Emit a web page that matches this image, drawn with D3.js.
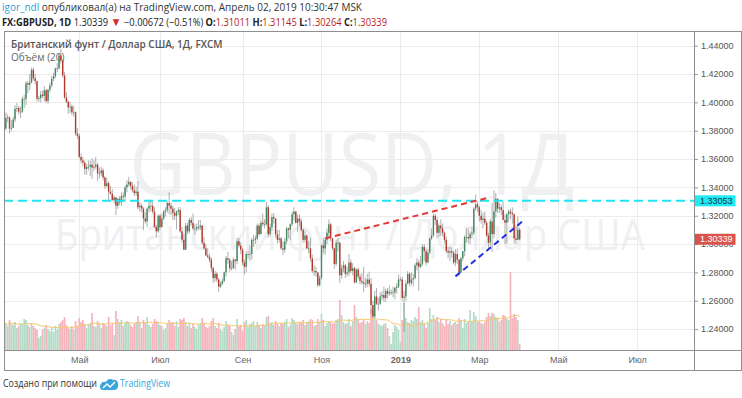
<!DOCTYPE html>
<meta charset="utf-8">
<body style="margin:0;background:white">
  <div id="content"></div>
</body>
<script src="https://cdn.jsdelivr.net/npm/d3@7"></script>
<script>
// GBPUSD daily, FXCM, 06.03.2018 - 02.04.2019 (prices in pips, open = previous close)
var firstOpen = 13815;
var closes = [
  13890, 13895, 13815, 13820,
  13880, 13955, 13960, 13935, 13935,  14025, 14025, 14135, 14125, 14140,
  14230, 14170, 14150, 14025, 14030,  14055, 14045, 14085, 14010, 14090,
  14120, 14165, 14185, 14240, 14240,  14330, 14295, 14190, 14035, 14005,
  13965, 13970, 13930, 13930, 13780,  13765, 13615, 13590, 13575, 13530,
  13545, 13545, 13560, 13540, 13545,  13560, 13500, 13500, 13520, 13470,
  13410, 13430, 13370, 13355, 13310,  13330, 13270, 13320, 13295, 13340,
  13335, 13400, 13420, 13440, 13410,  13380, 13360, 13370, 13260, 13270,
  13250, 13180, 13160, 13250, 13270,  13270, 13230, 13120, 13090, 13200,
  13120, 13180, 13230, 13240, 13290,  13270, 13250, 13220, 13200, 13230,
  13240, 13090, 13030, 12960, 13130,  13090, 13170, 13150, 13110, 13110,
  13120, 13120, 13130, 13010, 12970,  12920, 12910, 12890, 12830, 12760,
  12790, 12750, 12700, 12720, 12740,  12800, 12900, 12890, 12830, 12830,
  12890, 12880, 13020, 12990, 12960,  12870, 12840, 12930, 12930, 12930,
  13030, 13030, 13040, 13130, 13070,  13150, 13140, 13140, 13260, 13070,
  13120, 13190, 13180, 13070, 13030,  13040, 12970, 12960, 13020, 13110,
  13100, 13140, 13210, 13230, 13150,  13180, 13160, 13100, 13030, 13060,
  12970, 12970, 12900, 12810, 12810,  12800, 12710, 12760, 12990, 12970,
  13030, 13080, 13140, 13040, 12970,  12860, 13010, 13010, 12780, 12830,
  12850, 12790, 12800, 12870, 12810,  12830, 12730, 12820, 12770, 12740,
  12730, 12720, 12720, 12750, 12720,  12570, 12490, 12630, 12580, 12580,
  12630, 12640, 12620, 12670, 12650,  12660, 12660, 12660, 12690, 12700,
  12750, 12750, 12620, 12630, 12720,  12790, 12725, 12750, 12760, 12850,
  12870, 12840, 12860, 12980, 12950,  12870, 12940, 13040, 13060, 13200,
  13170, 13080, 13130, 13110, 13080,  13030, 12950, 12940, 12950, 12940,
  12870, 12930, 12890, 12800, 12900,  12950, 13050, 13050, 13040, 13070,
  13080, 13250, 13280, 13260, 13200,  13170, 13180, 13150, 13060, 13010,
  13160, 13070, 13230, 13320, 13250,  13260, 13240, 13170, 13150, 13210,
  13230, 13220, 13210, 13040, 13030,  13101.1, 13033.9
];
var highs = [
  13930, 13915, 13900, 13875,
  13900, 13980, 13995, 13975, 13970,  14040, 14055, 14150, 14150, 14200,
  14245, 14245, 14200, 14140, 14045,  14080, 14085, 14115, 14095, 14095,
  14140, 14185, 14210, 14245, 14280,  14350, 14377, 14305, 14215, 14070,
  14015, 14005, 13985, 13975, 13935,  13820, 13780, 13640, 13615, 13590,
  13565, 13590, 13590, 13605, 13595,  13615, 13575, 13540, 13545, 13535,
  13480, 13470, 13445, 13410, 13390,  13345, 13330, 13325, 13340, 13365,
  13365, 13415, 13450, 13475, 13440,  13435, 13420, 13405, 13445, 13295,
  13285, 13260, 13225, 13260, 13315,  13310, 13300, 13260, 13135, 13210,
  13210, 13215, 13240, 13260, 13300,  13365, 13290, 13270, 13255, 13235,
  13260, 13260, 13120, 13070, 13150,  13150, 13185, 13190, 13215, 13140,
  13145, 13170, 13170, 13135, 13050,  13000, 12970, 12935, 12905, 12840,
  12810, 12805, 12760, 12735, 12760,  12805, 12915, 12945, 12900, 12880,
  12905, 12895, 13045, 13045, 13015,  12975, 12890, 12950, 12955, 12990,
  13045, 13065, 13060, 13145, 13145,  13160, 13215, 13175, 13298, 13275,
  13145, 13215, 13220, 13185, 13100,  13100, 13050, 13020, 13045, 13125,
  13115, 13145, 13230, 13260, 13215,  13210, 13210, 13175, 13110, 13095,
  13070, 13020, 13045, 12925, 12850,  12840, 12800, 12780, 13000, 13045,
  13045, 13110, 13175, 13150, 13045,  12975, 13030, 13040, 13000, 12855,
  12880, 12860, 12840, 12930, 12890,  12865, 12840, 12830, 12835, 12790,
  12795, 12840, 12760, 12790, 12805,  12760, 12600, 12670, 12690, 12620,
  12660, 12670, 12700, 12685, 12690,  12710, 12680, 12700, 12700, 12725,
  12785, 12765, 12770, 12670, 12745,  12810, 12800, 12800, 12790, 12865,
  12900, 12890, 12915, 13000, 13000,  12965, 12965, 13045, 13110, 13215,
  13215, 13190, 13145, 13175, 13145,  13090, 13055, 12980, 12985, 12975,
  12955, 12965, 12970, 12895, 12910,  12950, 13060, 13110, 13110, 13090,
  13120, 13260, 13350, 13300, 13270,  13240, 13220, 13230, 13165, 13080,
  13180, 13290, 13380, 13360, 13320,  13290, 13280, 13300, 13210, 13220,
  13245, 13250, 13260, 13215, 13130,  13195, 13114.5
];
var lows = [
  13805, 13860, 13780, 13795,
  13825, 13860, 13930, 13915, 13890,  13925, 13960, 13980, 14065, 14085,
  14135, 14155, 14125, 14005, 14005,  14000, 14030, 14005, 13995, 13990,
  14070, 14105, 14150, 14170, 14215,  14235, 14275, 14175, 14025, 13995,
  13920, 13925, 13910, 13900, 13765,  13740, 13605, 13570, 13550, 13490,
  13490, 13520, 13480, 13460, 13515,  13530, 13450, 13465, 13480, 13450,
  13390, 13400, 13305, 13350, 13305,  13285, 13205, 13250, 13275, 13270,
  13305, 13300, 13365, 13405, 13385,  13365, 13340, 13340, 13245, 13230,
  13225, 13100, 13145, 13120, 13225,  13230, 13215, 13115, 13050, 13080,
  13100, 13115, 13170, 13195, 13220,  13210, 13205, 13170, 13170, 13105,
  13205, 13080, 13010, 12960, 12960,  13070, 13075, 13130, 13095, 13065,
  13090, 13100, 13100, 12995, 12960,  12915, 12900, 12870, 12805, 12725,
  12735, 12730, 12662, 12690, 12710,  12730, 12770, 12860, 12805, 12815,
  12825, 12820, 12860, 12975, 12930,  12850, 12785, 12800, 12895, 12880,
  12890, 12980, 13000, 13030, 13060,  13075, 13125, 13110, 13130, 13045,
  13055, 13095, 13145, 13045, 13005,  13010, 12960, 12922, 12940, 13000,
  13040, 13030, 13125, 13165, 13145,  13085, 13125, 13090, 13010, 13010,
  12965, 12935, 12875, 12795, 12775,  12770, 12696, 12700, 12750, 12935,
  12925, 13000, 13045, 13020, 12955,  12825, 12845, 12945, 12725, 12755,
  12800, 12760, 12770, 12775, 12795,  12780, 12720, 12725, 12755, 12715,
  12715, 12660, 12690, 12695, 12700,  12505, 12477, 12485, 12570, 12530,
  12570, 12605, 12595, 12590, 12615,  12635, 12640, 12625, 12610, 12650,
  12690, 12740, 12600, 12380, 12600,  12715, 12700, 12710, 12700, 12750,
  12815, 12670, 12830, 12845, 12880,  12850, 12865, 12925, 13030, 13050,
  13135, 13040, 13050, 13060, 13055,  13005, 12935, 12900, 12880, 12905,
  12855, 12845, 12860, 12773, 12795,  12880, 12915, 13010, 13005, 13000,
  13040, 13065, 13235, 13225, 13160,  13145, 13110, 13135, 13050, 12960,
  12980, 12945, 13040, 13185, 13220,  13220, 13205, 13170, 13000, 13005,
  13155, 13175, 13145, 13005, 13000,  13030, 13026.4
];
// volume, relative units
var volumes = [
  27, 24, 30, 26,
  25, 28, 22, 24, 27,  26, 31, 30, 25, 23,  27, 24, 22, 20, 12,  14, 20, 22, 25, 21,
  19, 23, 18, 24, 20,  26, 28, 30, 33, 25,  22, 21, 24, 20, 29,  24, 32, 28, 30, 26,
  22, 25, 27, 37, 24,  23, 29, 26, 22, 27,  26, 24, 33, 25, 27,  15, 39, 31, 28, 30,
  24, 27, 29, 28, 25,  23, 26, 28, 34, 27,  22, 30, 27, 33, 25,  23, 26, 31, 29, 28,
  25, 24, 20, 22, 26,  30, 27, 28, 24, 29,  23, 31, 30, 32, 28,  24, 27, 22, 26, 23,
  21, 25, 27, 32, 26,  23, 22, 24, 29, 32,  24, 22, 27, 21, 19,  23, 29, 25, 24, 18,
  15, 21, 31, 24, 25,  19, 28, 30, 23, 26,  27, 29, 24, 28, 25,  22, 26, 24, 33, 34,
  26, 28, 25, 29, 27,  24, 27, 26, 28, 31,  23, 25, 32, 30, 27,  26, 28, 27, 30, 25,
  27, 29, 31, 30, 24,  25, 31, 28, 36, 30,  24, 27, 29, 28, 26,  27, 30, 31, 50, 35,
  28, 26, 27, 31, 24,  29, 45, 33, 30, 27,  28, 30, 26, 29, 27,  41, 39, 36, 30, 26,
  25, 24, 26, 27, 22,  14, 6, 18, 25, 23,   20, 8, 30, 47, 32,   28, 27, 30, 29, 33,
  31, 43, 28, 30, 26,  22, 27, 42, 31, 35,  30, 33, 28, 31, 27,  24, 30, 26, 29, 25,
  27, 28, 26, 32, 30,  22, 31, 27, 28, 40,  29, 38, 34, 28, 29,  27, 26, 28, 33, 37,
  34, 37, 36, 33, 32,  28, 30, 35, 34, 31,  30, 78, 32, 36, 33,  30, 6
];
var startDate = "2018-03-06";
var priceTicks = [1.24, 1.26, 1.28, 1.30, 1.32, 1.34, 1.36, 1.38, 1.40, 1.42, 1.44];
var monthDates = ["2018-05-01", "2018-07-02", "2018-09-03", "2018-11-01", "2019-01-01", "2019-03-01", "2019-05-01", "2019-07-01"];
var monthLabels = ["Май", "Июл", "Сен", "Ноя", "2019", "Мар", "Май", "Июл"];
var levelPrice = 1.33053;
var redTrend = [["2018-11-05", 1.3040], ["2019-03-11", 1.3331]];
var blueTrend = [["2019-02-12", 1.2772], ["2019-04-04", 1.3165]];

var W = 742, H = 398;
var plot = { left: 4, right: 694, top: 32, bottom: 350 };
var colors = {
  up: '#3f8a60', down: '#b5382b', wick: '#8c8c8c',
  volUp: '#b3dcc8', volDown: '#f6b3bb', volMa: '#f5c86a',
  grid: '#ececec', frame: '#8f8f8f', text: '#555'
};

// bar index of a calendar day (weekdays only, counted from startDate)
function barIndex(s) {
  var d0 = new Date(startDate + "T00:00:00Z"), d1 = new Date(s + "T00:00:00Z");
  var n = 0;
  for (var d = new Date(d0); d < d1; d.setUTCDate(d.getUTCDate() + 1)) {
    var wd = d.getUTCDay();
    if (wd !== 0 && wd !== 6) n++;
  }
  return n;
}

var bars = closes.map(function (c, i) {
  var o = i === 0 ? firstOpen : closes[i - 1];
  return {
    i: i,
    o: o / 1e4, c: c / 1e4,
    h: Math.max(highs[i], o, c) / 1e4,
    l: Math.min(lows[i], o, c) / 1e4,
    v: volumes[i]
  };
});
// 20 bar moving average of volume
bars.forEach(function (b, i) {
  var win = volumes.slice(Math.max(0, i - 19), i + 1);
  b.ma = d3.mean(win);
});

var x = d3.scaleLinear().domain([-1, 375]).range([plot.left, plot.right]);
var y = d3.scaleLinear().domain([1.24, 1.44]).range([329.1, 45.7]);
var yv = d3.scaleLinear().domain([0, 78]).range([plot.bottom, plot.bottom - 78]);

var svg = d3.select('#content').append('svg')
  .attr('width', W).attr('height', H)
  .style('display', 'block')
  .style('font-family', '"Open Sans", "Liberation Sans", sans-serif');

svg.append('defs').append('clipPath').attr('id', 'plotclip')
  .append('rect').attr('x', plot.left).attr('y', plot.top)
  .attr('width', plot.right - plot.left).attr('height', plot.bottom - plot.top);

// header
var h1 = svg.append('text').attr('x', 2).attr('y', 11).attr('font-size', 10).attr('fill', '#333')
  .attr('textLength', 360).attr('lengthAdjust', 'spacingAndGlyphs');
h1.append('tspan').attr('fill', '#2f9fd8').text('igor_ndl');
h1.append('tspan').text(' опубликовал(а) на TradingView.com, Апрель 02, 2019 10:30:47 MSK');

var h2 = svg.append('text').attr('x', 2).attr('y', 25.5).attr('font-size', 10).attr('fill', '#222')
  .attr('textLength', 385).attr('lengthAdjust', 'spacingAndGlyphs');
h2.append('tspan').attr('font-weight', 'bold').text('FX:GBPUSD, 1D');
h2.append('tspan').text(' 1.30339 ');
h2.append('tspan').attr('fill', '#d32f2f').attr('font-size', 12).text('▼');
h2.append('tspan').text(' −0.00672 (−0.51%) ');
[['O:', '1.31011'], ['H:', '1.31145'], ['L:', '1.30264'], ['C:', '1.30339']].forEach(function (p, k) {
  h2.append('tspan').attr('font-weight', 'bold').text((k ? ' ' : '') + p[0]);
  h2.append('tspan').attr('fill', '#b71c1c').text(p[1]);
});

// watermark
var wm = svg.append('g').attr('fill', '#eef0f2').attr('text-anchor', 'middle');
wm.append('text').attr('x', 352).attr('y', 195).attr('font-size', 86)
  .attr('textLength', 445).attr('lengthAdjust', 'spacingAndGlyphs').text('GBPUSD, 1Д');
wm.append('text').attr('x', 350).attr('y', 250).attr('font-size', 44)
  .attr('textLength', 590).attr('lengthAdjust', 'spacingAndGlyphs').text('Британский фунт / Доллар США');

// grid
var grid = svg.append('g').attr('stroke', colors.grid).attr('stroke-width', 1);
grid.selectAll('line.h').data(priceTicks).enter().append('line')
  .attr('x1', plot.left).attr('x2', plot.right)
  .attr('y1', function (d) { return Math.round(y(d)) + 0.5; })
  .attr('y2', function (d) { return Math.round(y(d)) + 0.5; });
grid.selectAll('line.v').data(monthDates).enter().append('line')
  .attr('y1', plot.top).attr('y2', plot.bottom)
  .attr('x1', function (d) { return Math.round(x(barIndex(d))) + 0.5; })
  .attr('x2', function (d) { return Math.round(x(barIndex(d))) + 0.5; });

// legend
svg.append('text').attr('x', 11).attr('y', 48).attr('font-size', 10).attr('font-weight', 600)
  .attr('fill', '#555').text('Британский фунт / Доллар США, 1Д, FXCM');
svg.append('text').attr('x', 11).attr('y', 61).attr('font-size', 10)
  .attr('fill', '#666').text('Объём (20)');

var g = svg.append('g').attr('clip-path', 'url(#plotclip)');

// volume bars + MA
g.selectAll('rect.vol').data(bars).enter().append('rect')
  .attr('x', function (d) { return x(d.i) - 0.85; })
  .attr('width', 1.7)
  .attr('y', function (d) { return yv(d.v); })
  .attr('height', function (d) { return plot.bottom - yv(d.v); })
  .attr('fill', function (d) { return d.c >= d.o ? colors.volUp : colors.volDown; });
g.append('path').datum(bars)
  .attr('fill', 'none').attr('stroke', colors.volMa).attr('stroke-width', 1)
  .attr('d', d3.line().x(function (d) { return x(d.i); }).y(function (d) { return yv(d.ma); }));

// candles
g.selectAll('line.wick').data(bars).enter().append('line')
  .attr('x1', function (d) { return x(d.i); }).attr('x2', function (d) { return x(d.i); })
  .attr('y1', function (d) { return y(d.h); }).attr('y2', function (d) { return y(d.l); })
  .attr('stroke', colors.wick).attr('stroke-width', 0.7);
g.selectAll('rect.body').data(bars).enter().append('rect')
  .attr('x', function (d) { return x(d.i) - 0.7; })
  .attr('width', 1.4)
  .attr('y', function (d) { return y(Math.max(d.o, d.c)); })
  .attr('height', function (d) { return Math.max(0.8, Math.abs(y(d.o) - y(d.c))); })
  .attr('fill', function (d) { return d.c >= d.o ? colors.up : colors.down; });

// horizontal level + trend lines
g.append('line')
  .attr('x1', plot.left).attr('x2', plot.right)
  .attr('y1', y(levelPrice)).attr('y2', y(levelPrice))
  .attr('stroke', '#22e3f0').attr('stroke-width', 2).attr('stroke-dasharray', '9,5');
[[redTrend, '#e53935'], [blueTrend, '#2130e0']].forEach(function (t) {
  var p = t[0];
  g.append('line')
    .attr('x1', x(barIndex(p[0][0]))).attr('y1', y(p[0][1]))
    .attr('x2', x(barIndex(p[1][0]))).attr('y2', y(p[1][1]))
    .attr('stroke', t[1]).attr('stroke-width', 2).attr('stroke-dasharray', '6,4');
});

// axes
var yAxis = d3.axisRight(y).tickValues(priceTicks).tickFormat(d3.format('.5f')).tickSize(4).tickPadding(3);
var ya = svg.append('g').attr('transform', 'translate(' + plot.right + ',0)').call(yAxis);
ya.select('.domain').remove();
ya.selectAll('line').attr('stroke', '#999');
ya.selectAll('text').attr('fill', colors.text).attr('font-size', 9).attr('font-family', '"Liberation Sans", sans-serif');

var xAxis = d3.axisBottom(x).tickValues(monthDates.map(barIndex))
  .tickFormat(function (d, i) { return monthLabels[i]; }).tickSize(0).tickPadding(7);
var xa = svg.append('g').attr('transform', 'translate(0,' + plot.bottom + ')').call(xAxis);
xa.select('.domain').remove();
xa.selectAll('text').attr('fill', '#666').attr('font-size', 9).attr('font-family', '"Liberation Sans", sans-serif')
  .attr('font-weight', function (d, i) { return monthLabels[i] === '2019' ? 'bold' : null; });

// price tags on the scale
function tag(price, bg, fg) {
  var t = svg.append('g').attr('transform', 'translate(' + plot.right + ',' + y(price) + ')');
  t.append('rect').attr('x', 0.5).attr('y', -5.5).attr('width', 41).attr('height', 11).attr('fill', bg);
  t.append('text').attr('x', 6).attr('y', 3.2).attr('font-size', 9).attr('fill', fg)
    .attr('font-family', '"Liberation Sans", sans-serif').text(price.toFixed(5));
}
tag(levelPrice, '#1ee9f5', '#1a3a40');
tag(bars[bars.length - 1].c, '#d9534a', '#fff');

// frame
var fr = svg.append('g').attr('stroke', colors.frame).attr('fill', 'none').attr('shape-rendering', 'crispEdges');
fr.append('rect').attr('x', 4.5).attr('y', 31.5).attr('width', 737).attr('height', 339);
fr.append('line').attr('x1', plot.right + 0.5).attr('x2', plot.right + 0.5).attr('y1', 31.5).attr('y2', 370.5);
fr.append('line').attr('x1', 4.5).attr('x2', 741.5).attr('y1', plot.bottom + 0.5).attr('y2', plot.bottom + 0.5);

// footer
svg.append('text').attr('x', 3).attr('y', 387).attr('font-size', 10).attr('fill', '#333')
  .attr('textLength', 94).attr('lengthAdjust', 'spacingAndGlyphs').text('Создано при помощи');
var logo = svg.append('g').attr('transform', 'translate(100,378)');
logo.append('path').attr('d', 'M0,9 C0,5 3,3 6,4 C7,1 11,0 13,2 C16,1 19,4 18,8 C18,11 16,12 14,12 L3,12 C1,12 0,11 0,9 Z')
  .attr('fill', '#3ba5dc');
logo.append('path').attr('d', 'M3,10 L7,6 L10,9 L15,4').attr('stroke', '#fff').attr('stroke-width', 1.4).attr('fill', 'none');
svg.append('text').attr('x', 120).attr('y', 387).attr('font-size', 10.5).attr('fill', '#3ba5dc')
  .attr('textLength', 50).attr('lengthAdjust', 'spacingAndGlyphs').text('TradingView');
</script>
